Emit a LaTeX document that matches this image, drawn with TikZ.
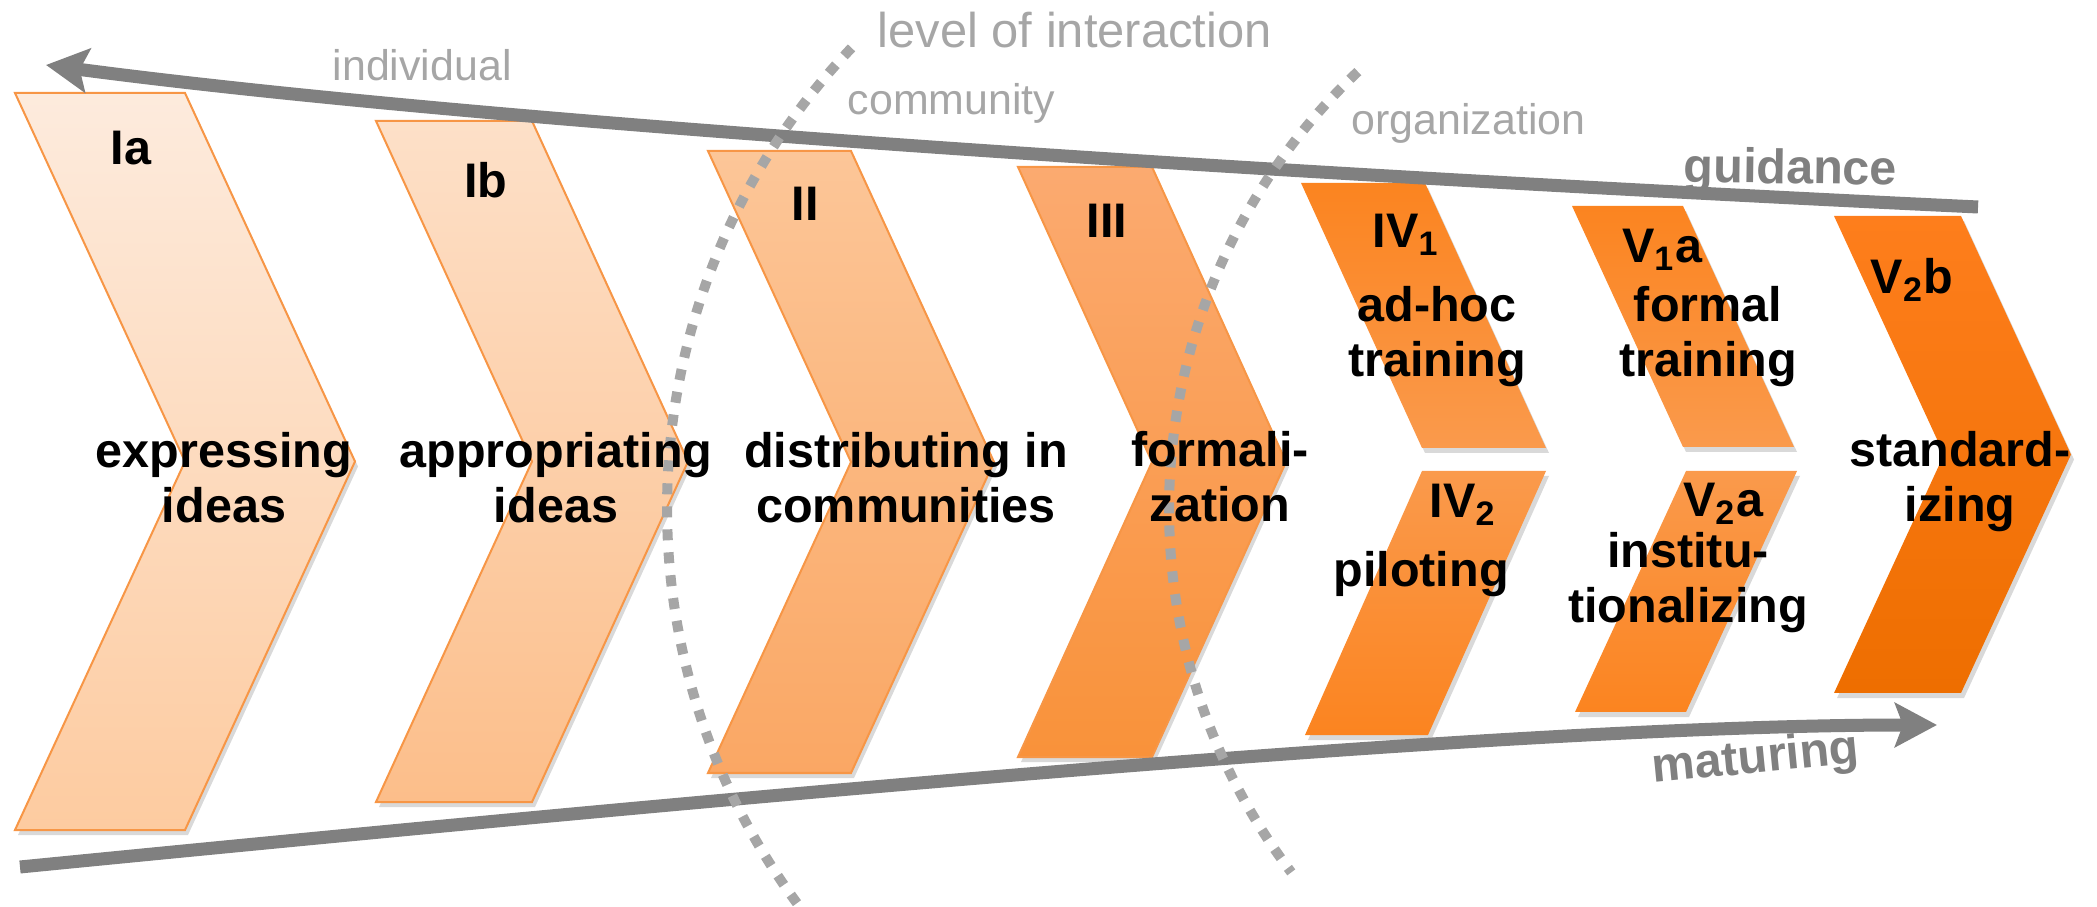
\documentclass[tikz,border=0pt]{standalone}
\usepackage{fontspec}
\setmainfont{Liberation Sans}
\usepackage{tikz}
\usetikzlibrary{positioning, shadows, arrows.meta}

\definecolor{chevline}{HTML}{F79646}
\definecolor{iaTop}{HTML}{FDEBDD}
\definecolor{iaBot}{HTML}{FDCBA0}
\definecolor{ibTop}{HTML}{FDE0C8}
\definecolor{ibBot}{HTML}{FCBE8A}
\definecolor{iiTop}{HTML}{FCC698}
\definecolor{iiBot}{HTML}{FAA764}
\definecolor{iiiTop}{HTML}{FBAA70}
\definecolor{iiiBot}{HTML}{F9923A}
\definecolor{halfDark}{HTML}{FB8420}
\definecolor{halfLight}{HTML}{FA9A4C}
\definecolor{vbTop}{HTML}{FE7E1C}
\definecolor{vbBot}{HTML}{EE6E00}
\definecolor{arrgray}{HTML}{808080}
\definecolor{dotgray}{HTML}{A6A6A6}
\definecolor{lvlgray}{HTML}{A6A6A6}

\begin{document}
\begin{tikzpicture}[x=0.01cm, y=0.01cm]
        % Styles
        \tikzstyle{chev} = [draw=chevline, line width=0.02cm, drop shadow={shadow xshift=0.03cm, shadow yshift=-0.05cm, opacity=0.3}]
        \tikzstyle{half} = [draw=none, drop shadow={shadow xshift=0.03cm, shadow yshift=-0.05cm, opacity=0.3}]
        \tikzstyle{stage} = [font=\bfseries\fontsize{13.8}{15.65}\selectfont, align=center, anchor=base, inner sep=0pt]
        \tikzstyle{level} = [text=lvlgray, font=\fontsize{12.2}{14}\selectfont, anchor=base west, inner sep=0pt]
        \tikzstyle{flow} = [draw=arrgray, line width=0.13cm, -{Stealth[length=0.42cm, width=0.44cm, inset=0.08cm]}]
        \tikzstyle{border} = [draw=dotgray, line width=0.1cm, dash pattern=on 0.11cm off 0.12cm]

        \useasboundingbox (0,0) rectangle (2097,-907);

        % Chevrons
        \draw[chev, top color=iaTop, bottom color=iaBot] (15,-93) -- (185,-93) -- (355,-461.5) -- (185,-830) -- (15,-830) -- (185,-461.5) -- cycle;
        \draw[chev, top color=ibTop, bottom color=ibBot] (376,-121) -- (532,-121) -- (688,-461.5) -- (532,-802) -- (376,-802) -- (532,-461.5) -- cycle;
        \draw[chev, top color=iiTop, bottom color=iiBot] (708,-151) -- (851,-151) -- (994,-462) -- (851,-773) -- (708,-773) -- (851,-462) -- cycle;
        \draw[chev, top color=iiiTop, bottom color=iiiBot] (1018,-167) -- (1152,-167) -- (1286,-462) -- (1152,-757) -- (1018,-757) -- (1152,-462) -- cycle;
        \draw[half, top color=halfDark, bottom color=halfLight] (1301,-183) -- (1425,-183) -- (1546,-448) -- (1422,-448) -- cycle;
        \draw[half, top color=halfLight, bottom color=halfDark] (1422,-471) -- (1546,-471) -- (1428,-735) -- (1305,-735) -- cycle;
        \draw[half, top color=halfDark, bottom color=halfLight] (1572,-206) -- (1683,-206) -- (1794,-447) -- (1683,-447) -- cycle;
        \draw[half, top color=halfLight, bottom color=halfDark] (1686,-471) -- (1797,-471) -- (1686,-712) -- (1575,-712) -- cycle;
        \draw[half, top color=vbTop, bottom color=vbBot] (1834,-216) -- (1961,-216) -- (2071,-454.5) -- (1961,-693) -- (1834,-693) -- (1944,-454.5) -- cycle;

        % Fleches
        \coordinate (gstart) at (1978,-207);
        \coordinate (gend) at (46,-65);
        \coordinate (mstart) at (20,-867);
        \coordinate (mend) at (1937,-725);
        \draw[flow] (gstart) .. controls (1300,-175) and (500,-125) .. (gend);
        \draw[flow] (mstart) .. controls (700,-800) and (1500,-725) .. (mend);

        % Cercles pointilles
        \coordinate (c1) at (1333,-508);
        \coordinate (c2) at (1770,-509);
        \draw[border] (c1) ++(136.3:666) arc[start angle=136.3, end angle=216.4, radius=666];
        \draw[border] (c2) ++(133.3:601) arc[start angle=133.3, end angle=217.2, radius=601];

        % Etapes
        \node[stage] (ia) at (131,-165) {Ia};
        \node[stage] (ib) at (486,-198) {Ib};
        \node[stage] (ii) at (805,-221) {II};
        \node[stage] (iii) at (1107,-238) {III};
        \node[stage] (iv1) at (1406,-248) {IV\textsubscript{1}};
        \node[stage] (v1a) at (1662,-263) {V\textsubscript{1}a};
        \node[stage] (v2b) at (1912,-294) {V\textsubscript{2}b};
        \node[stage] (iv2) at (1463,-518) {IV\textsubscript{2}};
        \node[stage] (v2a) at (1723,-517) {V\textsubscript{2}a};

        \node[stage] (express) at (224,-523) {expressing\\ideas};
        \node[stage] (appro) at (556,-523) {appropriating\\ideas};
        \node[stage] (distrib) at (906,-523) {distributing in\\communities};
        \node[stage] (formal) at (1220,-522) {formali-\\zation};
        \node[stage] (adhoc) at (1437,-377) {ad-hoc\\training};
        \node[stage] (ftrain) at (1708,-377) {formal\\training};
        \node[stage] (pilot) at (1421,-587) {piloting};
        \node[stage] (instit) at (1688,-623) {institu-\\tionalizing};
        \node[stage] (standard) at (1960,-522) {standard-\\izing};

        % Niveaux
        \node[level] (indiv) at (332,-81) {individual};
        \node[level, font=\fontsize{13.9}{16}\selectfont] (inter) at (877,-48) {level of interaction};
        \node[level] (commu) at (847,-115) {community};
        \node[level] (orga) at (1351,-135) {organization};
        \node[stage, anchor=base west, text=arrgray, rotate=-0.8] (guid) at (1683,-182) {guidance};
        \node[stage, anchor=base west, text=arrgray, rotate=5.6] (matur) at (1653,-783) {maturing};
\end{tikzpicture}
\end{document}
